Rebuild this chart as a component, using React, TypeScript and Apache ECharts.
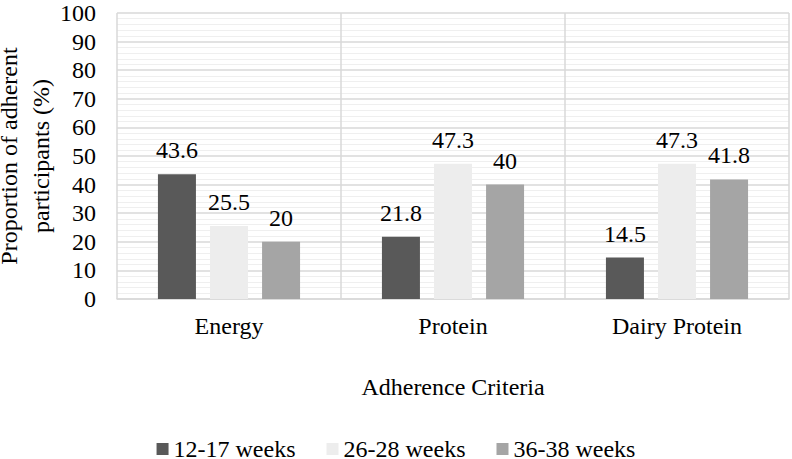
import React, { useEffect, useRef } from "react";
import * as echarts from "echarts";

const categories = ["Energy", "Protein", "Dairy Protein"];
const seriesNames = ["12-17 weeks", "26-28 weeks", "36-38 weeks"];
const weeks12to17 = [43.6, 21.8, 14.5];
const weeks26to28 = [25.5, 47.3, 47.3];
const weeks36to38 = [20, 40, 41.8];
const colors = ["#595959", "#ededed", "#a5a5a5"];

const FONT = "Liberation Serif, Times New Roman, serif";

export default function App() {
  const ref = useRef<HTMLDivElement>(null);
  useEffect(() => {
    if (!ref.current) return;
    const chart = echarts.init(ref.current, undefined, { renderer: "svg" });
    const values = [weeks12to17, weeks26to28, weeks36to38];
    chart.setOption({
      animation: false,
      textStyle: { fontFamily: FONT, color: "#000" },
      grid: {
        left: 117,
        right: 3,
        top: 13,
        bottom: 160,
        containLabel: false,
        outerBoundsMode: "none",
      },
      legend: {
        data: seriesNames,
        left: "center",
        top: 432,
        itemWidth: 12,
        itemHeight: 12,
        itemGap: 31,
        icon: "rect",
        textStyle: { fontFamily: FONT, fontSize: 24, color: "#000" },
      },
      xAxis: {
        type: "category",
        data: categories,
        name: "Adherence Criteria",
        nameLocation: "middle",
        nameGap: 76,
        nameMoveOverlap: false,
        nameTextStyle: { fontFamily: FONT, fontSize: 24, color: "#000" },
        axisLine: { show: true, lineStyle: { color: "#d9d9d9", width: 1.5 } },
        axisTick: { show: false },
        axisLabel: { fontFamily: FONT, fontSize: 24, color: "#000", margin: 15 },
        splitLine: { show: true, lineStyle: { color: "#d9d9d9", width: 1.5 } },
      },
      yAxis: {
        type: "value",
        min: 0,
        max: 100,
        interval: 10,
        name: "Proportion of adherent\nparticipants (%)",
        nameLocation: "middle",
        nameGap: 60,
        nameMoveOverlap: false,
        nameTextStyle: { fontFamily: FONT, fontSize: 24, color: "#000", lineHeight: 32 },
        axisLine: { show: false },
        axisTick: { show: false },
        axisLabel: { fontFamily: FONT, fontSize: 24, color: "#000", margin: 21 },
        splitLine: { show: true, lineStyle: { color: "#d9d9d9", width: 1.5 } },
        minorTick: { show: false, splitNumber: 5 },
        minorSplitLine: { show: true, lineStyle: { color: "#efefef", width: 1 } },
      },
      series: seriesNames.map((name, i) => ({
        name,
        type: "bar",
        data: values[i],
        barWidth: 38,
        barGap: "37%",
        itemStyle: { color: colors[i] },
        label: {
          show: true,
          position: "top",
          distance: 12,
          fontFamily: FONT,
          fontSize: 24,
          color: "#000",
        },
      })),
    });
    return () => chart.dispose();
  }, []);
  return (
    <div
      ref={ref}
      style={{
        position: "absolute",
        left: 0,
        top: 0,
        width: 792,
        height: 459,
      }}
    />
  );
}
